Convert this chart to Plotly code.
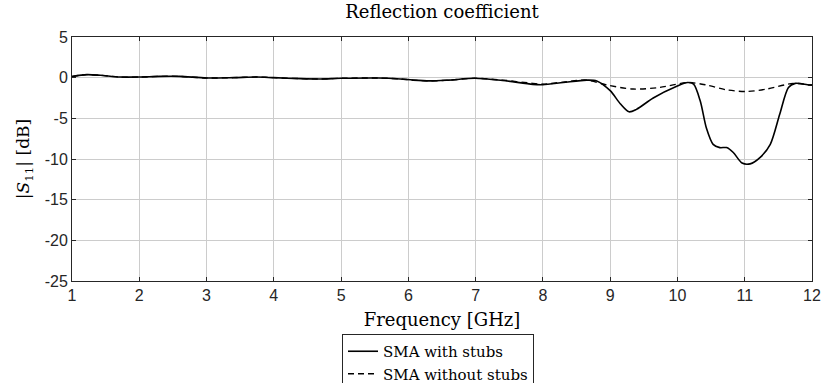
import plotly.graph_objects as go

# Measured |S11| of the SMA transition, dB versus frequency in GHz
freq_with = [1.0, 1.22, 1.42, 1.71, 2.0, 2.3, 2.6, 3.0, 3.4, 3.75, 4.0, 4.4, 4.7, 5.0,
             5.55, 5.88, 6.07, 6.32, 6.6, 6.99, 7.4, 7.85, 8.0, 8.3, 8.65, 8.8, 9.0,
             9.15, 9.28, 9.39, 9.64, 9.99, 10.15, 10.24, 10.34, 10.43, 10.53, 10.63,
             10.73, 10.83, 10.96, 11.08, 11.23, 11.38, 11.52, 11.65, 11.75, 11.97, 12.0]
s11_with = [0.15, 0.37, 0.29, 0.08, 0.08, 0.16, 0.16, -0.04, 0.0, 0.08, 0.0, -0.12, -0.16,
            -0.08, -0.04, -0.16, -0.3, -0.4, -0.3, -0.08, -0.35, -0.82, -0.86, -0.6,
            -0.3, -0.4, -1.6, -3.2, -4.2, -3.9, -2.5, -1.06, -0.6, -0.8, -2.9, -6.2,
            -8.2, -8.6, -8.6, -9.2, -10.5, -10.6, -9.8, -8.2, -4.5, -1.2, -0.7, -0.9, -0.9]

freq_without = [1.0, 1.22, 1.42, 1.71, 2.0, 2.3, 2.6, 3.0, 3.4, 3.75, 4.0, 4.4, 4.7, 5.0,
                5.55, 5.88, 6.07, 6.32, 6.6, 6.99, 7.4, 7.85, 8.0, 8.3, 8.65, 8.95, 9.34,
                9.74, 10.15, 10.43, 10.73, 11.03, 11.33, 11.72, 11.97, 12.0]
s11_without = [0.15, 0.37, 0.29, 0.08, 0.08, 0.16, 0.16, -0.04, 0.0, 0.08, 0.0, -0.12, -0.16,
               -0.08, -0.04, -0.16, -0.3, -0.4, -0.3, -0.08, -0.3, -0.7, -0.8, -0.55,
               -0.3, -0.9, -1.4, -1.2, -0.6, -0.9, -1.5, -1.7, -1.4, -0.7, -0.9, -0.9]

x_ticks = [1, 2, 3, 4, 5, 6, 7, 8, 9, 10, 11, 12]
y_ticks = [5, 0, -5, -10, -15, -20, -25]
y_tick_labels = ["5", "0", "-5", "-10", "-15", "-20", "-25"]

serif = "DejaVu Serif, Liberation Serif, serif"
sans = "Liberation Sans, Arial, sans-serif"

W, H = 822, 383
ML, MR, MT, MB = 72, 10, 37, 102

fig = go.Figure()
fig.add_trace(go.Scatter(
    x=freq_with, y=s11_with, mode="lines", name="SMA with stubs",
    line=dict(color="black", width=1.6, shape="spline", smoothing=0.8),
))
fig.add_trace(go.Scatter(
    x=freq_without, y=s11_without, mode="lines", name="SMA without stubs",
    line=dict(color="black", width=1.4, dash="6px,4px", shape="spline", smoothing=0.8),
))

axis_common = dict(
    showgrid=True, gridcolor="#cccccc", gridwidth=1,
    showline=True, linecolor="#262626", linewidth=1, mirror="ticks",
    ticks="inside", ticklen=4, tickcolor="#262626",
    zeroline=False, automargin=False,
    tickfont=dict(family=sans, size=16, color="#262626"),
)

fig.update_layout(
    width=W, height=H,
    margin=dict(l=ML, r=MR, t=MT, b=MB),
    paper_bgcolor="white", plot_bgcolor="white",
    title=dict(text="Reflection coefficient", x=0.5, xref="paper", xanchor="center",
               y=1 - 12 / H, yanchor="middle",
               font=dict(family=serif, size=18, color="black")),
    xaxis=dict(range=[1, 12], tickvals=x_ticks,
               title=dict(text="Frequency [GHz]", standoff=10,
                          font=dict(family=serif, size=18, color="black")),
               **axis_common),
    yaxis=dict(range=[-25, 5], tickvals=y_ticks, ticktext=y_tick_labels,
               title=dict(text="|<i>S</i><sub>11</sub>| [dB]", standoff=10,
                          font=dict(family=serif, size=17, color="black")),
               **axis_common),
    legend=dict(xref="paper", yref="container",
                x=(342 - ML) / (W - ML - MR), y=1 - 334 / H,
                xanchor="left", yanchor="top",
                bgcolor="white", bordercolor="#262626", borderwidth=1,
                font=dict(family=serif, size=15, color="black"),
                itemwidth=30, tracegroupgap=0),
    showlegend=True,
)

fig.write_html("out.html")
